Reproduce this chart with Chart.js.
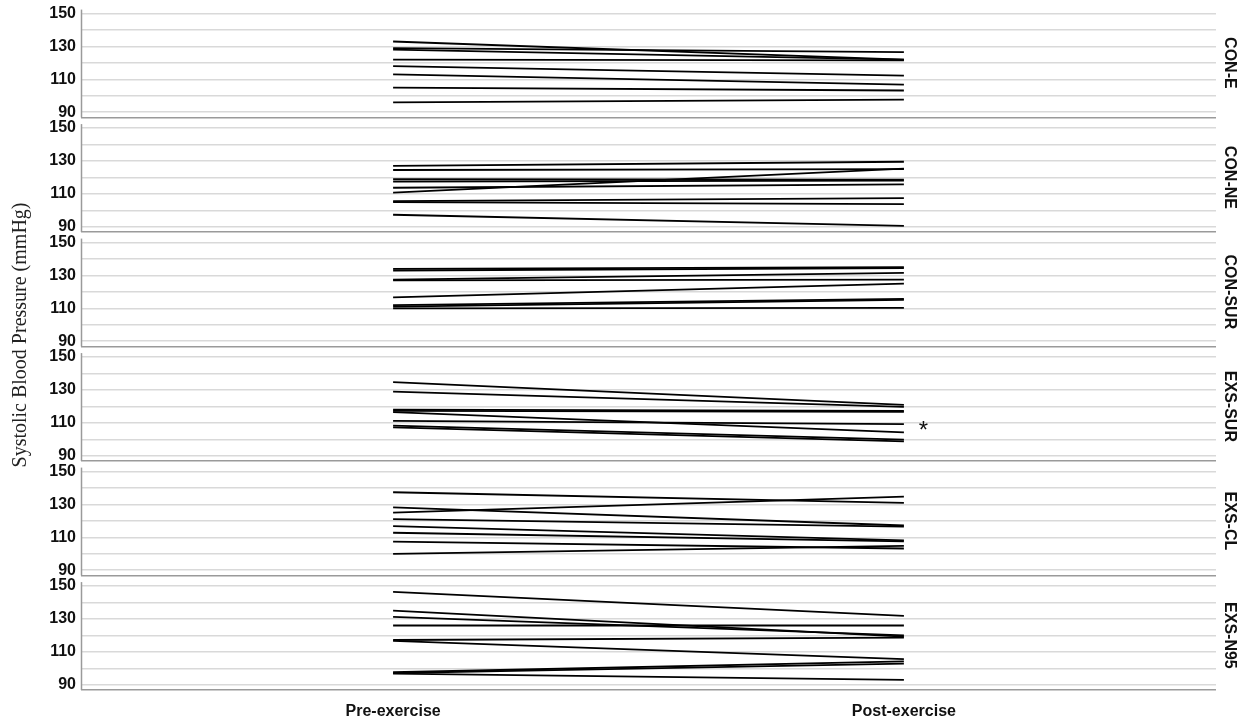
<!DOCTYPE html>
<html>
<head>
<meta charset="utf-8">
<script src="https://cdn.jsdelivr.net/npm/chart.js@4.4.0/dist/chart.umd.min.js"></script>
<style>
  html, body { margin: 0; padding: 0; background: #ffffff; }
  #wrap { position: relative; width: 1246px; height: 721px; }
</style>
</head>
<body>
<div id="wrap"><canvas id="c" width="1246" height="721"></canvas></div>
<script>
// ---------------- data ----------------
const groups = ['CON-E', 'CON-NE', 'CON-SUR', 'EXS-SUR', 'EXS-CL', 'EXS-N95'];
const timeLabels = ['Pre-exercise', 'Post-exercise'];
const yTickLabels = [90, 110, 130, 150];
const gridValues = [90, 100, 110, 120, 130, 140, 150];
const yAxisTitle = 'Systolic Blood Pressure (mmHg)';

const conE_pre    = [133, 129, 128, 122, 118, 113, 105, 96];
const conE_post   = [122, 126.5, 122, 121.5, 112.3, 106.8, 103.2, 97.7];
const conNE_pre   = [127, 124.5, 119, 117.5, 113.7, 110.7, 105.6, 105, 97.3];
const conNE_post  = [129.5, 125, 118.6, 118, 115.8, 125.3, 107.4, 103.8, 90.5];
const conSUR_pre  = [134, 133, 127.5, 127, 116.7, 112, 111, 110];
const conSUR_post = [135, 134.5, 131.6, 127.5, 125, 115.8, 115.2, 110.3];
const exsSUR_pre  = [134.7, 129, 118, 117.3, 116.5, 111.2, 108.3, 107.2];
const exsSUR_post = [120.9, 119.7, 117.3, 116.7, 104.2, 109.2, 99.8, 98.7];
const exsCL_pre   = [137.4, 128.2, 125, 121.1, 116.8, 112.8, 107.4, 100];
const exsCL_post  = [130.9, 117.2, 134.7, 116.5, 108.2, 107.6, 103.2, 104.8];
const exsN95_pre  = [146.5, 135, 131.2, 126, 117.2, 116.7, 97.6, 97.1, 96.8];
const exsN95_post = [131.8, 119.2, 120, 126, 118.6, 105.6, 104.2, 102.8, 92.9];

const sigGroup = 'EXS-SUR';   // group marked with an asterisk
const sigMark = '*';
const sigValue = 109.4;

// ---------------- config ----------------
const preByGroup  = [conE_pre, conNE_pre, conSUR_pre, exsSUR_pre, exsCL_pre, exsN95_pre];
const postByGroup = [conE_post, conNE_post, conSUR_post, exsSUR_post, exsCL_post, exsN95_post];

const yMin = 86.8, yMax = 156.4, axisTop = 152.4;
const FONT = '"Liberation Sans", Arial, sans-serif';

const datasets = [];
groups.forEach((g, gi) => {
  preByGroup[gi].forEach((pre, si) => {
    datasets.push({
      label: g + ' #' + (si + 1),
      data: [{ x: 0, y: pre }, { x: 1, y: postByGroup[gi][si] }],
      yAxisID: 'y' + gi,
      borderColor: '#000000',
      borderWidth: 1.8,
      pointRadius: 0,
      fill: false,
      tension: 0
    });
  });
});

const scales = {
  x: {
    type: 'linear',
    min: -0.611,
    max: 1.611,
    afterBuildTicks: s => { s.ticks = [{ value: 0 }, { value: 1 }]; },
    ticks: {
      callback: v => timeLabels[v],
      font: { family: FONT, weight: 'bold', size: 16 },
      color: '#111111',
      padding: 4,
      maxRotation: 0,
      autoSkip: false
    },
    grid: { display: false },
    border: { display: false },
    afterFit: s => { s.height = 31; s.paddingLeft = 0; s.paddingRight = 0; }
  }
};
for (let i = groups.length - 1; i >= 0; i--) {
  scales['y' + i] = {
    type: 'linear',
    position: 'left',
    stack: 'panels',
    stackWeight: 1,
    min: yMin,
    max: yMax,
    afterBuildTicks: s => { s.ticks = [yMin].concat(gridValues).map(v => ({ value: v })); },
    ticks: {
      autoSkip: false,
      padding: 5,
      color: '#111111',
      font: { family: FONT, weight: 'bold', size: 16 },
      callback: v => (yTickLabels.includes(v) ? String(v) : '')
    },
    grid: {
      drawTicks: false,
      color: c => (c.tick && c.tick.value === yMin ? '#9a9a9a' : '#d9d9d9'),
      lineWidth: 1.5
    },
    border: { display: false },
    afterFit: s => { s.width = 81; s.paddingTop = 0; s.paddingBottom = 0; }
  };
}

const overlay = {
  id: 'overlay',
  afterDraw(chart) {
    const ctx = chart.ctx, ca = chart.chartArea;
    ctx.save();
    groups.forEach((g, i) => {
      const s = chart.scales['y' + i];
      ctx.strokeStyle = '#9a9a9a';
      ctx.lineWidth = 1.5;
      ctx.beginPath();
      ctx.moveTo(ca.left + 0.5, s.getPixelForValue(axisTop));
      ctx.lineTo(ca.left + 0.5, s.bottom);
      ctx.stroke();

      ctx.save();
      ctx.translate(ca.right + 13, s.getPixelForValue(120));
      ctx.rotate(Math.PI / 2);
      ctx.font = 'bold 16px ' + FONT;
      ctx.fillStyle = '#111111';
      ctx.textAlign = 'center';
      ctx.textBaseline = 'middle';
      ctx.fillText(g, 0, 0);
      ctx.restore();
    });

    // y-axis title
    ctx.save();
    ctx.translate(21, 335);
    ctx.rotate(-Math.PI / 2);
    ctx.font = '20px "Liberation Serif", "Times New Roman", serif';
    ctx.fillStyle = '#222222';
    ctx.textAlign = 'center';
    ctx.textBaseline = 'middle';
    ctx.fillText(yAxisTitle, 0, 0);
    ctx.restore();

    // significance mark
    const si = groups.indexOf(sigGroup);
    const ys = chart.scales['y' + si];
    const xs = chart.scales.x;
    ctx.font = '24px ' + FONT;
    ctx.fillStyle = '#111111';
    ctx.textAlign = 'center';
    ctx.textBaseline = 'alphabetic';
    ctx.fillText(sigMark, xs.getPixelForValue(1) + 19.5, ys.getPixelForValue(sigValue) + 14);
    ctx.restore();
  }
};

new Chart(document.getElementById('c'), {
  type: 'line',
  data: { datasets },
  options: {
    responsive: false,
    animation: false,
    parsing: true,
    layout: { padding: { top: 3, right: 30, bottom: 0, left: 0 } },
    plugins: {
      legend: { display: false },
      tooltip: { enabled: false },
      title: { display: false }
    },
    scales
  },
  plugins: [overlay]
});
</script>
</body>
</html>
